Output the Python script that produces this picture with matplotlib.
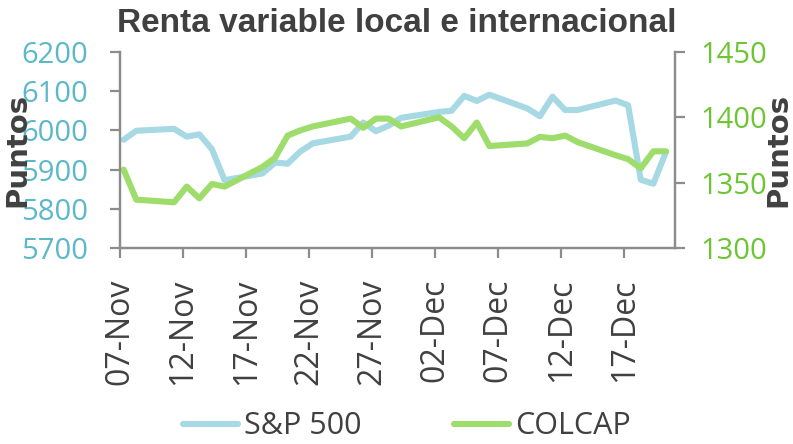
import matplotlib
matplotlib.use("Agg")
import matplotlib.pyplot as plt
import matplotlib.dates as mdates
import pandas as pd


DATES = [
    "2024-11-07", "2024-11-08", "2024-11-11", "2024-11-12", "2024-11-13",
    "2024-11-14", "2024-11-15", "2024-11-18", "2024-11-19", "2024-11-20",
    "2024-11-21", "2024-11-22", "2024-11-25", "2024-11-26", "2024-11-27",
    "2024-11-28", "2024-11-29", "2024-12-02", "2024-12-03", "2024-12-04",
    "2024-12-05", "2024-12-06", "2024-12-09", "2024-12-10", "2024-12-11",
    "2024-12-12", "2024-12-13", "2024-12-16", "2024-12-17", "2024-12-18",
    "2024-12-19", "2024-12-20",
]

SP500 = [
    5976, 5999, 6004, 5984, 5990, 5952, 5873, 5890, 5918, 5915,
    5946, 5967, 5984, 6020, 5998, 6012, 6032, 6047, 6050, 6088,
    6075, 6091, 6056, 6036, 6086, 6052, 6052, 6076, 6064, 5874,
    5864, 5945,
]

COLCAP = [
    1360, 1337, 1335, 1347, 1338, 1349, 1347, 1362, 1369, 1386,
    1390, 1393, 1399, 1392, 1399, 1399, 1393, 1400, 1393, 1384,
    1396, 1378, 1380, 1385, 1384, 1386, 1381, 1371, 1368, 1361,
    1374, 1374,
]

TITLE = "Renta variable local e internacional"
SP_COLOR = "#A6D9E3"
COLCAP_COLOR = "#9EDC6C"
SP_TICK = "#5BB8C9"
COLCAP_TICK = "#6CC532"
TEXT = "#404040"
SPINE = "#8C8C8C"
TICK_FONT = "Open Sans"


def main():
    dates = pd.to_datetime(DATES) + pd.Timedelta(hours=7)

    fig = plt.figure(figsize=(7.93, 4.44), dpi=100)
    ax = fig.add_axes([0.1513, 0.4414, 0.8511 - 0.1513, 0.883 - 0.4414])
    ax2 = ax.twinx()

    l1, = ax.plot(dates, SP500, color=SP_COLOR, linewidth=4.4,
                  solid_capstyle="round", solid_joinstyle="round", label="S&P 500")
    l2, = ax2.plot(dates, COLCAP, color=COLCAP_COLOR, linewidth=4.4,
                   solid_capstyle="round", solid_joinstyle="round", label="COLCAP")

    ax.set_ylim(5700, 6200)
    ax.set_yticks(range(5700, 6201, 100))
    ax2.set_ylim(1300, 1450)
    ax2.set_yticks(range(1300, 1451, 50))
    ax.set_xlim(pd.Timestamp("2024-11-07"), pd.Timestamp("2024-12-21"))
    ax.set_xticks(pd.date_range("2024-11-07", periods=9, freq="5D"))
    ax.xaxis.set_major_formatter(mdates.DateFormatter("%d-%b"))

    for a in (ax, ax2):
        a.spines["top"].set_visible(False)
        for s in ("left", "right", "bottom"):
            a.spines[s].set_color(SPINE)
            a.spines[s].set_linewidth(1.6)
        a.tick_params(length=7, width=1.6, color=SPINE)

    ax.tick_params(axis="y", labelsize=21, labelcolor=SP_TICK, pad=16)
    ax2.tick_params(axis="y", labelsize=21, labelcolor=COLCAP_TICK, pad=11)
    ax.tick_params(axis="x", labelsize=23, labelcolor=TEXT, pad=15, labelrotation=90)
    for lab in ax.get_yticklabels() + ax2.get_yticklabels() + ax.get_xticklabels():
        lab.set_family(TICK_FONT)

    # Puntos sits over the tick labels, as in the original
    ax.set_ylabel("Puntos", fontsize=21, fontweight="bold", color=TEXT)
    ax.yaxis.set_label_coords(-0.159, 0.5)
    ax2.set_ylabel("Puntos", fontsize=21, fontweight="bold", color=TEXT, rotation=90)
    ax2.yaxis.set_label_coords(1.162, 0.5)

    fig.text(0.5, 0.948, TITLE, ha="center", va="center", fontsize=24,
             fontweight="bold", color=TEXT, family="Liberation Sans")

    fig.legend([l1, l2], ["S&P 500", "COLCAP"], loc="center",
               bbox_to_anchor=(0.513, 0.04), ncol=2, frameon=False,
               handlelength=1.8, handletextpad=0.2, columnspacing=3.0,
               prop={"family": TICK_FONT, "size": 22}, labelcolor=TEXT)

    fig.savefig("out.png", dpi=100)
    plt.close(fig)


if __name__ == "__main__":
    main()
